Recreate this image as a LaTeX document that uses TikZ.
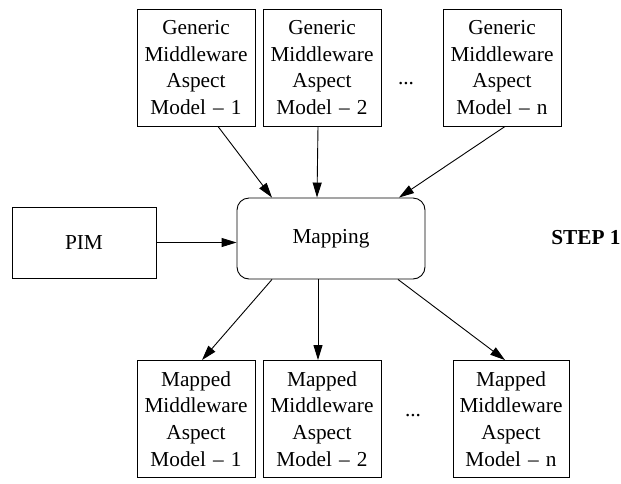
\documentclass[tikz,border=0pt]{standalone}
\usepackage{fontspec}
\setmainfont{Liberation Serif}
\usetikzlibrary{arrows.meta}
\begin{document}
\begin{tikzpicture}[x=1pt,y=-1pt,
  every node/.style={font=\fontsize{21.3}{26.7}\selectfont},
  modelbox/.style={draw,line width=0.9pt,minimum width=118pt,minimum height=117pt,inner sep=0pt,text width=118pt,align=center},
  plainbox/.style={draw,line width=0.9pt,inner sep=0pt,align=center},
  conn/.style={line width=0.9pt,-{Triangle[length=15pt,width=9pt]}}]
\useasboundingbox (0,0) rectangle (621,483);
% top generic models
\node[modelbox] (g1) at (196,67.5) {Generic\\Middleware\\Aspect\\Model -- 1};
\node[modelbox] (g2) at (322,67.5) {Generic\\Middleware\\Aspect\\Model -- 2};
\node[modelbox] (gn) at (502,67.5) {Generic\\Middleware\\Aspect\\Model -- n};
\node (gdots) at (406,84) {...};
% mapping and PIM
\node[plainbox,rounded corners=12pt,minimum width=188pt,minimum height=81pt] (map) at (331,238.5) {Mapping};
\node[plainbox,minimum width=144pt,minimum height=71pt] (pim) at (84,242.5) {PIM};
\node[font=\fontsize{21.3}{26.7}\selectfont\bfseries] (step) at (586,238) {STEP 1};
% bottom mapped models
\node[modelbox] (m1) at (196,419) {Mapped\\Middleware\\Aspect\\Model -- 1};
\node[modelbox] (m2) at (322,419) {Mapped\\Middleware\\Aspect\\Model -- 2};
\node[modelbox,minimum width=116pt,text width=116pt] (mn) at (511,419) {Mapped\\Middleware\\Aspect\\Model -- n};
\node (mdots) at (413,416) {...};
% connectors
\draw[conn] ([xshift=22pt]g1.south) -- ([xshift=-59pt]map.north);
\draw[conn] ([xshift=-4pt]g2.south) -- ([xshift=-14pt]map.north);
\draw[conn] ([xshift=3pt]gn.south) -- ([xshift=68pt]map.north);
\draw[conn] (pim.east) -- (pim.east -| map.west);
\draw[conn] ([xshift=-59pt]map.south) -- ([xshift=6pt]m1.north);
\draw[conn] ([xshift=-13pt]map.south) -- ([xshift=-4pt]m2.north);
\draw[conn] ([xshift=67pt]map.south) -- ([xshift=-6pt]mn.north);
\end{tikzpicture}
\end{document}
